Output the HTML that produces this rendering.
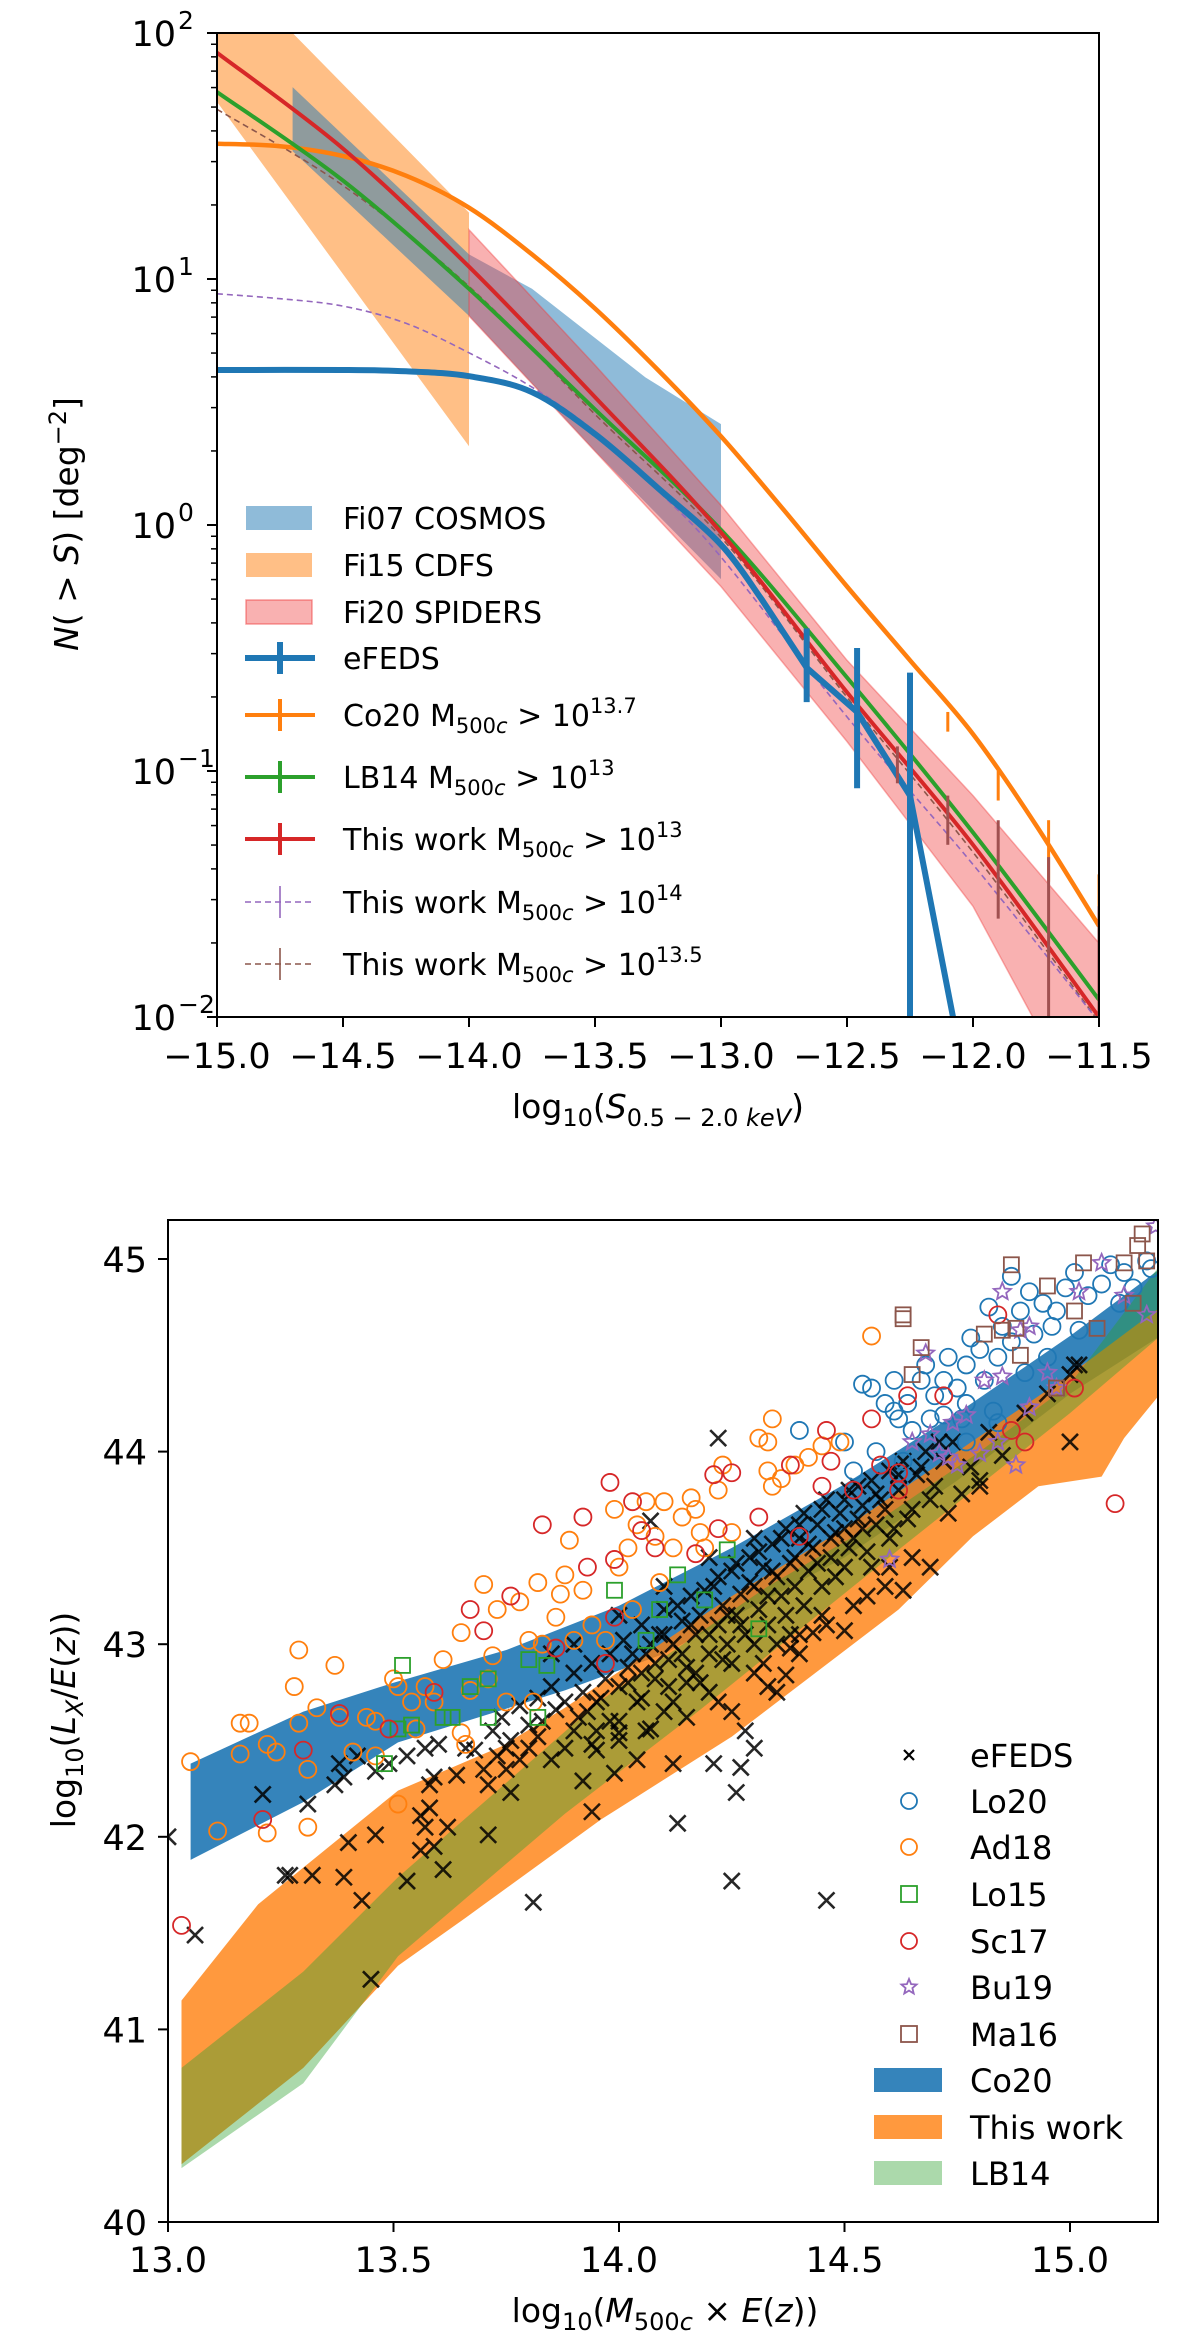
<!DOCTYPE html>
<html><head><meta charset="utf-8"><style>
html,body{margin:0;padding:0;background:#fff;}
svg{display:block;font-family:"DejaVu Sans","Liberation Sans",sans-serif;}
</style></head><body>
<svg id="fig" width="1200" height="2351" viewBox="0 0 1200 2351" xmlns="http://www.w3.org/2000/svg">
<defs>
<clipPath id="clipTop"><rect x="217" y="33" width="882" height="984"/></clipPath>
<clipPath id="clipBot"><rect x="168" y="1220" width="990" height="1002"/></clipPath>
</defs>
<g id="top"></g>
<g id="bot"></g>
</svg>
<script>
// ---------- TOP CHART DATA (x = log10 S, y = log10 N) ----------
const cdfsUpper = [[-15.3,2.3],[-14.7,2.0],[-14.0,1.27]];
const cdfsLower = [[-15.0,1.72],[-14.0,0.32]];
const cosmosUpper = [[-14.7,1.78],[-14.0,1.1],[-13.75,0.96],[-13.3,0.6],[-13.0,0.41]];
const cosmosLower = [[-14.7,1.52],[-14.0,0.85],[-13.5,0.3],[-13.0,-0.22]];
const spidersUpper = [[-14.0,1.2],[-13.5,0.65],[-13.0,0.08],[-12.5,-0.55],[-12.0,-1.1],[-11.5,-1.7]];
const spidersLower = [[-14.0,0.85],[-13.5,0.3],[-13.0,-0.25],[-12.5,-0.88],[-12.0,-1.55],[-11.5,-2.5]];
const co20Line = [[-15,1.55],[-14.75,1.54],[-14.5,1.5],[-14.25,1.42],[-14,1.29],[-13.75,1.1],[-13.5,0.88],[-13.25,0.63],[-13,0.36],[-12.75,0.06],[-12.5,-0.25],[-12.25,-0.55],[-12,-0.85],[-11.75,-1.22],[-11.5,-1.63]];
const lb14Line = [[-15,1.76],[-14.5,1.4],[-14,0.96],[-13.5,0.47],[-13,-0.02],[-12.5,-0.62],[-12,-1.25],[-11.5,-1.93]];
const thisWorkLine = [[-15,1.92],[-14.5,1.53],[-14,1.05],[-13.5,0.52],[-13,-0.03],[-12.5,-0.68],[-12,-1.3],[-11.5,-2.0]];
const m14Line = [[-15,0.94],[-14.75,0.92],[-14.5,0.89],[-14.25,0.82],[-14,0.7],[-13.75,0.56],[-13.5,0.38],[-13.25,0.14],[-13,-0.13],[-12.5,-0.78],[-12,-1.38],[-11.5,-2.02]];
const m135Line = [[-15,1.69],[-14.5,1.38],[-14,0.97],[-13.5,0.45],[-13,-0.05],[-12.5,-0.7],[-12,-1.33],[-11.5,-2.02]];
const efedsSmooth = [[-15,0.63],[-14.5,0.63],[-14.25,0.625],[-14,0.605],[-13.75,0.54],[-13.5,0.37],[-13.25,0.15],[-13,-0.08],[-12.84,-0.3]];
const efedsTail = [[-12.66,-0.58],[-12.46,-0.76],[-12.25,-1.1],[-12.07,-2.05]];
const efedsErrX = [-12.66,-12.46,-12.25];
const efedsErrLo = [-0.72,-1.07,-2.1];
const efedsErrHi = [-0.42,-0.5,-0.6];
const co20ErrX = [-12.1,-11.9,-11.7,-11.5];
const co20ErrLo = [-0.84,-1.12,-1.45,-1.75];
const co20ErrHi = [-0.76,-1.0,-1.2,-1.42];
const thisErrX = [-12.3,-12.1,-11.9,-11.7,-11.5];
const thisErrLo = [-1.05,-1.3,-1.6,-2.1,-2.1];
const thisErrHi = [-0.9,-1.1,-1.2,-1.35,-1.55];
const topXTicks = [-15.0,-14.5,-14.0,-13.5,-13.0,-12.5,-12.0,-11.5];
const topXTickLabels = ["\u221215.0","\u221214.5","\u221214.0","\u221213.5","\u221213.0","\u221212.5","\u221212.0","\u221211.5"];
const topYTicks = [2,1,0,-1,-2];
const topYTickExps = ["2","1","0","\u22121","\u22122"];

// ---------- BOTTOM CHART DATA ----------
const co20Upper = [[13.05,42.38],[13.3,42.65],[13.5,42.8],[13.75,42.97],[14,43.2],[14.25,43.5],[14.5,43.83],[14.75,44.2],[15,44.6],[15.2,44.95]];
const co20Lower = [[13.05,41.88],[13.3,42.18],[13.51,42.49],[13.88,42.76],[14.1,42.95],[14.3,43.2],[14.5,43.45],[14.75,43.85],[15,44.3],[15.2,44.6]];
const twUpper = [[13.03,41.15],[13.2,41.65],[13.51,42.24],[13.74,42.47],[13.88,42.67],[14.25,43.25],[14.5,43.6],[14.75,44.0],[15.0,44.4],[15.2,44.75]];
const twLower = [[13.03,40.3],[13.3,40.8],[13.51,41.33],[13.66,41.58],[13.96,42.09],[14.25,42.52],[14.62,43.18],[14.785,43.56],[14.93,43.82],[15.07,43.87],[15.12,44.07],[15.2,44.3]];
const lbUpper = [[13.03,40.8],[13.3,41.3],[13.51,41.79],[13.96,42.71],[14.33,43.3],[14.55,43.6],[14.8,44.0],[15.0,44.35],[15.2,44.97]];
const lbLower = [[13.03,40.28],[13.3,40.72],[13.51,41.38],[13.88,42.12],[14.18,42.66],[14.62,43.49],[15.0,44.2],[15.2,44.6]];
const efedsPts = [[13.0,42.0],[13.06,41.49],[13.21,42.22],[13.26,41.8],[13.27,41.8],[13.31,42.17],[13.32,41.8],[13.39,41.79],[13.4,41.97],[13.43,41.67],[13.45,41.26],[13.46,42.01],[13.53,41.77],[13.56,42.11],[13.56,41.93],[13.57,42.05],[13.59,41.95],[13.61,41.83],[13.58,42.27],[13.39,42.31],[13.37,42.27],[13.38,42.38],[13.42,42.42],[13.46,42.34],[13.49,42.38],[13.53,42.42],[13.57,42.46],[13.59,42.31],[13.6,42.48],[13.66,42.46],[13.71,42.27],[13.71,42.01],[13.73,42.42],[13.75,42.46],[13.76,42.23],[13.8,42.46],[13.81,41.66],[13.88,42.46],[13.92,42.29],[13.94,42.13],[13.94,42.48],[13.99,42.33],[14.0,42.54],[14.04,42.4],[14.07,42.56],[14.12,42.38],[14.13,42.07],[14.21,42.38],[14.25,41.77],[14.26,42.23],[14.27,42.36],[14.3,42.46],[14.46,41.67],[14.22,44.07],[14.07,43.64],[15.0,44.05],[15.01,44.45],[14.8,43.85],[14.73,43.68],[14.69,43.4],[14.63,43.28],[14.59,43.3],[14.5,43.07],[14.43,43.06],[14.37,42.84],[14.38,42.98],[14.33,42.78],[14.8,43.82],
[13.72,42.55],[13.74,42.62],[13.76,42.5],[13.78,42.68],[13.8,42.58],[13.82,42.72],[13.83,42.6],[13.85,42.78],[13.86,42.66],[13.88,42.7],[13.9,42.85],[13.91,42.62],[13.92,42.75],[13.94,42.9],[13.95,42.7],[13.97,42.82],[13.98,42.95],[14.0,42.78],[14.01,43.02],[14.02,42.88],[14.04,42.7],[14.05,43.1],[14.06,42.95],[14.08,42.82],[14.09,43.05],[14.1,43.18],[14.11,42.92],[14.12,43.0],[14.14,43.12],[14.15,42.88],[14.16,43.25],[14.17,43.05],[14.18,43.15],[14.2,42.95],[14.21,43.3],[14.22,43.1],[14.23,43.2],[14.24,43.0],[14.25,43.38],[14.26,43.15],[14.27,43.26],[14.28,43.05],[14.29,43.45],[14.3,43.3],[14.31,43.18],[14.32,43.4],[14.33,43.1],[14.34,43.52],[14.35,43.35],[14.36,43.25],[14.37,43.6],[14.38,43.42],[14.39,43.3],[14.4,43.55],[14.41,43.68],[14.42,43.38],[14.43,43.5],[14.44,43.62],[14.45,43.3],[14.46,43.75],[14.47,43.45],[14.48,43.58],[14.49,43.68],[14.5,43.4],[14.51,43.8],[14.52,43.55],[14.53,43.65],[14.54,43.72],[14.55,43.48],[14.56,43.85],[14.57,43.62],[14.58,43.75],[14.6,43.9],[14.61,43.6],[14.62,43.8],[14.63,43.95],[14.65,43.7],[14.66,43.88],[14.68,44.0],[14.7,43.82],[14.72,43.95],[14.74,44.05],[14.76,43.78],[14.78,43.92],[14.82,44.1],[14.85,43.98],[14.9,44.2],[14.95,44.3],[15.0,44.4],[15.02,44.45],[13.85,42.95],[13.9,43.0],[14.0,43.15],[14.1,43.3],[14.2,43.45],[14.3,43.55],[14.15,42.8],[14.05,42.72],[14.25,42.9],[14.35,43.0],[14.45,43.15],[14.55,43.25],[14.4,43.05],[14.6,43.4],[14.65,43.45],[14.5,43.6],[13.75,42.35],[13.85,42.4],[13.95,42.55],[14.0,42.6],[14.1,42.65],[14.2,42.75],[14.3,42.85],[14.4,42.95],[14.15,42.62],[14.25,42.65],[14.28,42.55],[14.35,42.75],
[13.9,42.55],[13.93,42.65],[13.96,42.72],[13.98,42.6],[14.02,42.8],[14.03,42.95],[14.05,42.85],[14.07,43.0],[14.08,42.9],[14.1,43.05],[14.11,42.78],[14.13,43.2],[14.14,42.95],[14.16,43.1],[14.17,42.85],[14.19,43.28],[14.2,43.05],[14.22,43.35],[14.23,42.92],[14.24,43.15],[14.26,43.42],[14.27,43.1],[14.29,43.32],[14.3,43.0],[14.31,43.48],[14.33,43.25],[14.34,43.38],[14.36,43.55],[14.37,43.15],[14.39,43.45],[14.4,43.62],[14.41,43.2],[14.42,43.52],[14.44,43.42],[14.45,43.7],[14.47,43.55],[14.48,43.35],[14.5,43.75],[14.51,43.5],[14.53,43.82],[14.54,43.6],[14.56,43.4],[14.57,43.78],[14.59,43.7],[14.6,43.55],[14.62,43.88],[14.64,43.65],[14.67,43.92],[14.69,43.75],[14.71,44.05],[13.95,42.45],[14.0,42.5],[14.06,42.55],[14.12,42.7],[14.18,42.8],[14.22,42.7],[14.32,42.9],[14.38,43.05],[14.46,43.1],[14.52,43.2],[13.68,42.45],[13.7,42.35],[13.78,42.4],[13.82,42.52],[13.64,42.32],[13.62,42.05],[13.58,42.15]];
const lo20Pts = [[14.4,44.11],[14.5,44.05],[14.54,44.35],[14.56,44.33],[14.59,44.25],[14.61,44.37],[14.61,44.21],[14.62,44.17],[14.64,44.25],[14.65,44.11],[14.67,44.37],[14.68,44.45],[14.69,44.17],[14.7,44.29],[14.72,44.37],[14.73,44.49],[14.75,44.33],[14.76,44.17],[14.77,44.45],[14.77,44.25],[14.78,44.59],[14.8,44.53],[14.81,44.37],[14.82,44.75],[14.83,44.21],[14.84,44.49],[14.84,44.15],[14.85,44.65],[14.87,44.57],[14.87,44.91],[14.89,44.73],[14.9,44.41],[14.91,44.83],[14.92,44.61],[14.94,44.77],[14.95,44.49],[14.96,44.65],[14.97,44.73],[14.99,44.85],[15.01,44.93],[15.02,44.63],[15.04,44.81],[15.07,44.87],[15.09,44.97],[15.11,44.77],[15.12,44.93],[15.14,44.85],[15.17,44.99],[15.18,44.95],[14.72,44.19],[14.77,44.05],[14.57,44.0],[14.63,43.95],[14.52,43.9]];
const ad18Pts = [[13.05,42.39],[13.11,42.03],[13.16,42.59],[13.18,42.59],[13.16,42.43],[13.22,42.48],[13.22,42.02],[13.24,42.44],[13.28,42.78],[13.29,42.97],[13.29,42.59],[13.31,42.35],[13.31,42.05],[13.33,42.67],[13.37,42.89],[13.38,42.62],[13.41,42.44],[13.44,42.62],[13.46,42.6],[13.46,42.42],[13.5,42.82],[13.51,42.78],[13.51,42.17],[13.54,42.7],[13.55,42.56],[13.57,42.78],[13.59,42.7],[13.61,42.92],[13.65,42.54],[13.65,43.06],[13.66,42.48],[13.67,42.76],[13.7,43.31],[13.71,42.82],[13.72,42.94],[13.73,43.18],[13.75,42.7],[13.78,43.22],[13.8,43.02],[13.81,42.7],[13.82,43.32],[13.83,43.0],[13.86,43.14],[13.87,43.26],[13.88,43.36],[13.89,43.54],[13.9,43.02],[13.92,43.28],[13.94,43.1],[13.97,43.02],[13.99,43.7],[14.0,43.4],[14.02,43.5],[14.03,43.18],[14.04,43.62],[14.06,43.74],[14.08,43.56],[14.09,43.32],[14.1,43.74],[14.12,43.5],[14.14,43.66],[14.16,43.76],[14.17,43.7],[14.18,43.58],[14.19,43.5],[14.22,43.8],[14.23,43.93],[14.25,43.58],[14.31,44.07],[14.33,44.05],[14.34,44.17],[14.33,43.9],[14.34,43.82],[14.39,43.93],[14.42,43.97],[14.45,44.03],[14.49,44.05],[14.56,44.6],[14.36,43.86]];
const lo15Pts = [[13.52,42.89],[13.67,42.78],[13.71,42.82],[13.63,42.62],[13.61,42.62],[13.48,42.38],[13.51,42.56],[13.54,42.58],[13.71,42.62],[13.82,42.62],[13.8,42.92],[13.84,42.89],[13.99,43.28],[14.06,43.02],[14.09,43.18],[14.13,43.36],[14.19,43.23],[14.24,43.49],[14.31,43.08]];
const sc17Pts = [[13.03,41.54],[13.21,42.09],[13.3,42.45],[13.38,42.64],[13.49,42.56],[13.59,42.75],[13.67,43.18],[13.7,43.07],[13.76,43.25],[13.83,43.62],[13.86,42.98],[13.92,43.66],[13.93,43.4],[13.98,43.84],[13.99,43.44],[13.99,43.14],[13.97,42.9],[14.03,43.74],[14.05,43.59],[14.08,43.5],[14.17,43.47],[14.21,43.88],[14.22,43.6],[14.25,43.89],[14.31,43.66],[14.38,43.93],[14.4,43.56],[14.45,43.82],[14.46,44.11],[14.47,43.95],[14.52,43.8],[14.56,44.17],[14.58,43.93],[14.62,43.8],[14.64,44.29],[14.72,44.29],[14.84,44.71],[14.9,44.05],[15.01,44.33],[15.1,43.73],[14.62,43.89],[14.87,44.11]];
const bu19Pts = [[14.6,43.44],[14.68,44.51],[14.69,44.09],[14.71,43.99],[14.73,43.97],[14.74,44.15],[14.75,43.93],[14.77,44.19],[14.8,43.99],[14.84,44.05],[14.85,44.39],[14.85,44.83],[14.88,43.93],[14.89,44.63],[14.91,44.65],[14.91,44.23],[14.95,44.41],[14.97,44.33],[15.02,44.83],[15.07,44.98],[15.12,44.81],[15.17,44.71],[15.19,45.17],[14.81,44.37],[14.65,44.05]];
const ma16Pts = [[14.63,44.71],[14.63,44.69],[14.67,44.54],[14.65,44.4],[14.81,44.61],[14.87,44.97],[14.88,44.64],[14.89,44.5],[14.95,44.86],[14.97,44.33],[15.01,44.73],[15.03,44.98],[15.06,44.64],[15.12,44.98],[15.14,44.77],[15.15,45.07],[15.16,45.13],[15.17,44.99],[14.85,44.63]];
const botXTicks = [13.0,13.5,14.0,14.5,15.0];
const botXTickLabels = ["13.0","13.5","14.0","14.5","15.0"];
const botYTicks = [40,41,42,43,44,45];
const botYTickLabels = ["40","41","42","43","44","45"];

const NS = "http://www.w3.org/2000/svg";
function mk(parent, tag, attrs){ const e=document.createElementNS(NS,tag); for(const k in attrs) e.setAttribute(k,attrs[k]); parent.appendChild(e); return e; }
function smooth(P){
  let d='M'+P[0][0].toFixed(1)+','+P[0][1].toFixed(1);
  for(let i=0;i<P.length-1;i++){
    const p0=P[i-1]||P[i], p1=P[i], p2=P[i+1], p3=P[i+2]||P[i+1];
    const c1=[p1[0]+(p2[0]-p0[0])/6, p1[1]+(p2[1]-p0[1])/6];
    const c2=[p2[0]-(p3[0]-p1[0])/6, p2[1]-(p3[1]-p1[1])/6];
    d+=` C${c1[0].toFixed(1)},${c1[1].toFixed(1)} ${c2[0].toFixed(1)},${c2[1].toFixed(1)} ${p2[0].toFixed(1)},${p2[1].toFixed(1)}`;
  }
  return d;
}

// ---------- TOP ----------
const T = document.getElementById('top');
const tx = v => 217 + (v + 15) * 252;
const ty = v => 33 + (2 - v) * 246;
const tPath = pts => pts.map((p,i)=>(i?'L':'M')+tx(p[0]).toFixed(1)+','+ty(p[1]).toFixed(1)).join(' ');
const tPoly = (up, lo) => tPath(up) + ' ' + lo.slice().reverse().map(p=>'L'+tx(p[0]).toFixed(1)+','+ty(p[1]).toFixed(1)).join(' ') + ' Z';
const tPlot = mk(T,'g',{'clip-path':'url(#clipTop)'});



let el = mk(tPlot,'path',{d:tPoly(cdfsUpper,cdfsLower),fill:'rgb(255,127,14)','fill-opacity':'0.5'});
 
el = mk(tPlot,'path',{d:tPoly(cosmosUpper,cosmosLower),fill:'rgb(31,119,180)','fill-opacity':'0.5'});
 
el = mk(tPlot,'path',{d:tPoly(spidersUpper,spidersLower),fill:'rgb(240,60,60)','fill-opacity':'0.4',stroke:'rgb(240,60,60)','stroke-opacity':'0.4','stroke-width':'1.5'});
 

function tLine(pts,color,w,dash,name,sm){
  const px = pts.map(p=>[tx(p[0]),ty(p[1])]);
  const e = mk(tPlot,'path',{d:sm?smooth(px):tPath(pts),fill:'none',stroke:color,'stroke-width':w,'stroke-dasharray':dash||'none','stroke-linejoin':'round'});
  
  
}
function tErr(xs,lo,hi,color,w,name){
  xs.forEach((x,i)=>{
    const e = mk(tPlot,'line',{x1:tx(x),x2:tx(x),y1:ty(lo[i]),y2:ty(hi[i]),stroke:color,'stroke-width':w});
    
    
  });
}
tLine(m135Line,'#8c564b',1.6,'6,4','line-this-work-13-5',true);
tLine(m14Line,'#9467bd',1.6,'6,4','line-this-work-14',true);
tLine(co20Line,'#ff7f0e',4.5,null,'line-co20',true);
tLine(lb14Line,'#2ca02c',4,null,'line-lb14',true);
tLine(thisWorkLine,'#d62728',4,null,'line-this-work-13',true);
// eFEDS: smooth plateau then straight segments
(function(){
  const px = efedsSmooth.map(p=>[tx(p[0]),ty(p[1])]);
  const d = smooth(px) + ' ' + efedsTail.map(p=>'L'+tx(p[0]).toFixed(1)+','+ty(p[1]).toFixed(1)).join(' ');
  const e = mk(tPlot,'path',{d:d,fill:'none',stroke:'#1f77b4','stroke-width':6,'stroke-linejoin':'round'});
  
  
})();
tErr(co20ErrX,co20ErrLo,co20ErrHi,'#ff7f0e',3,'errorbar-co20');
tErr(thisErrX,thisErrLo,thisErrHi,'#a05050',3,'errorbar-this-work');
tErr(efedsErrX,efedsErrLo,efedsErrHi,'#1f77b4',6,'errorbar-efeds');

el = mk(T,'rect',{x:217,y:33,width:882,height:984,fill:'none',stroke:'#000','stroke-width':2});
 
topXTicks.forEach((v,i)=>{
  mk(T,'line',{x1:tx(v),x2:tx(v),y1:1017,y2:1027,stroke:'#000','stroke-width':2});
  const t = mk(T,'text',{x:tx(v),y:1068,'font-size':35,'text-anchor':'middle',fill:'#000'});
  t.textContent = topXTickLabels[i];
   
});
topYTicks.forEach((v,i)=>{
  mk(T,'line',{x1:207,x2:217,y1:ty(v),y2:ty(v),stroke:'#000','stroke-width':2});
  const t = mk(T,'text',{x:176,y:ty(v)+13,'font-size':35,'text-anchor':'end',fill:'#000'});
  t.textContent='10';
  const s = mk(T,'text',{x:178,y:ty(v)-4,'font-size':25,'text-anchor':'start',fill:'#000'});
  s.textContent = topYTickExps[i];
   
   
  if(v>-2){ for(let m=2;m<10;m++){ const yy=ty(v-1+Math.log10(m)); mk(T,'line',{x1:211,x2:217,y1:yy,y2:yy,stroke:'#000','stroke-width':1.5}); } }
});
</script>
<script>
(function(){
const T = document.getElementById('top');
const NS="http://www.w3.org/2000/svg";
function mk(p,tag,a){const e=document.createElementNS(NS,tag);for(const k in a)e.setAttribute(k,a[k]);p.appendChild(e);return e;}
let t = mk(T,'text',{x:658,y:1118,'font-size':33,'text-anchor':'middle',fill:'#000'});
t.innerHTML = 'log<tspan font-size="24" dy="8">10</tspan><tspan dy="-8">(</tspan><tspan font-style="italic">S</tspan><tspan font-size="24" dy="8">0.5 − 2.0 </tspan><tspan font-size="24" font-style="italic">keV</tspan><tspan dy="-8">)</tspan>';
 
t = mk(T,'text',{x:0,y:0,'font-size':33,'text-anchor':'middle',fill:'#000',transform:'translate(78,524) rotate(-90)'});
t.innerHTML = '<tspan font-style="italic">N</tspan>( &gt; <tspan font-style="italic">S</tspan>) [deg<tspan font-size="24" dy="-12">−2</tspan><tspan dy="12">]</tspan>';
 
const sub = (pre,exp)=> pre+' M<tspan font-size="21" dy="7">500<tspan font-style="italic">c</tspan></tspan><tspan dy="-7"> &gt; 10</tspan><tspan font-size="21" dy="-13">'+exp+'</tspan>';
const rows=[
 {y:518,type:'patch',fill:'rgba(31,119,180,0.5)',label:'Fi07 COSMOS'},
 {y:565,type:'patch',fill:'rgba(255,127,14,0.5)',label:'Fi15 CDFS'},
 {y:612,type:'patch',fill:'rgba(240,60,60,0.4)',label:'Fi20 SPIDERS',stroke:'rgba(240,60,60,0.5)'},
 {y:658,type:'line',color:'#1f77b4',w:6,label:'eFEDS'},
 {y:715,type:'line',color:'#ff7f0e',w:4,label:sub('Co20','13.7')},
 {y:777,type:'line',color:'#2ca02c',w:4,label:sub('LB14','13')},
 {y:839,type:'line',color:'#d62728',w:4,label:sub('This work','13')},
 {y:902,type:'line',color:'#9467bd',w:1.6,dash:'6,4',label:sub('This work','14')},
 {y:964,type:'line',color:'#8c564b',w:1.6,dash:'6,4',label:sub('This work','13.5')}
];
const lg = mk(T,'g',{});
 
rows.forEach(r=>{
  const g = mk(lg,'g',{});
   
  if(r.type==='patch'){ mk(g,'rect',{x:246,y:r.y-12,width:66,height:24,fill:r.fill,stroke:r.stroke||'none','stroke-width':1.5}); }
  else { mk(g,'line',{x1:245,x2:315,y1:r.y,y2:r.y,stroke:r.color,'stroke-width':r.w,'stroke-dasharray':r.dash||'none'});
         mk(g,'line',{x1:280,x2:280,y1:r.y-16,y2:r.y+16,stroke:r.color,'stroke-width':r.w>3?r.w:1.6}); }
  const tt = mk(g,'text',{x:343,y:r.y+11,'font-size':30,fill:'#000'});
  tt.innerHTML = r.label;
});
})();
</script>
<script>
(function(){
const B = document.getElementById('bot');
const NS="http://www.w3.org/2000/svg";
function mk(p,tag,a){const e=document.createElementNS(NS,tag);for(const k in a)e.setAttribute(k,a[k]);p.appendChild(e);return e;}
const bx = v => 168 + (v - 13) * 451;
const by = v => 2222 - (v - 40) * 192.6;
const bPath = pts => pts.map((p,i)=>(i?'L':'M')+bx(p[0]).toFixed(1)+','+by(p[1]).toFixed(1)).join(' ');
const bPoly = (up,lo) => bPath(up)+' '+lo.slice().reverse().map(p=>'L'+bx(p[0]).toFixed(1)+','+by(p[1]).toFixed(1)).join(' ')+' Z';
const P = mk(B,'g',{'clip-path':'url(#clipBot)'});
 
let e = mk(P,'path',{d:bPoly(co20Upper,co20Lower),fill:'rgb(31,119,180)','fill-opacity':'0.9'});
 
e = mk(P,'path',{d:bPoly(twUpper,twLower),fill:'rgb(255,127,14)','fill-opacity':'0.8'});
 
e = mk(P,'path',{d:bPoly(lbUpper,lbLower),fill:'rgb(44,160,44)','fill-opacity':'0.4'});
 

function star(cx,cy,r){let s='';for(let i=0;i<10;i++){const a=-Math.PI/2+i*Math.PI/5;const rr=i%2?r*0.45:r;s+=(i?'L':'M')+(cx+rr*Math.cos(a)).toFixed(1)+','+(cy+rr*Math.sin(a)).toFixed(1);}return s+'Z';}
function scatter(pts,kind,color,name){
  const g = mk(P,'g',{});
   
  pts.forEach(p=>{
    const x=bx(p[0]), y=by(p[1]); let m;
    if(kind==='x'){ m = mk(g,'path',{d:`M${x-8},${y-8}L${x+8},${y+8}M${x-8},${y+8}L${x+8},${y-8}`,stroke:color,'stroke-width':2.6,'stroke-opacity':0.85,fill:'none'}); }
    else if(kind==='o'){ m = mk(g,'circle',{cx:x,cy:y,r:8.5,fill:'none',stroke:color,'stroke-width':1.8}); }
    else if(kind==='s'){ m = mk(g,'rect',{x:x-7.5,y:y-7.5,width:15,height:15,fill:'none',stroke:color,'stroke-width':1.8}); }
    else { m = mk(g,'path',{d:star(x,y,9),fill:'none',stroke:color,'stroke-width':1.8}); }
    
    
  });
}
scatter(efedsPts,'x','#000','series-efeds');
scatter(lo20Pts,'o','#1f77b4','series-lo20');
scatter(ad18Pts,'o','#ff7f0e','series-ad18');
scatter(lo15Pts,'s','#2ca02c','series-lo15');
scatter(sc17Pts,'o','#d62728','series-sc17');
scatter(bu19Pts,'*','#9467bd','series-bu19');
scatter(ma16Pts,'s','#8c564b','series-ma16');

e = mk(B,'rect',{x:168,y:1220,width:990,height:1002,fill:'none',stroke:'#000','stroke-width':2});
 
botXTicks.forEach((v,i)=>{
  mk(B,'line',{x1:bx(v),x2:bx(v),y1:2222,y2:2232,stroke:'#000','stroke-width':2});
  const t = mk(B,'text',{x:bx(v),y:2272,'font-size':35,'text-anchor':'middle',fill:'#000'});
  t.textContent = botXTickLabels[i];
   
});
botYTicks.forEach((v,i)=>{
  mk(B,'line',{x1:158,x2:168,y1:by(v),y2:by(v),stroke:'#000','stroke-width':2});
  const t = mk(B,'text',{x:147,y:by(v)+13,'font-size':35,'text-anchor':'end',fill:'#000'});
  t.textContent = botYTickLabels[i];
   
});
let t = mk(B,'text',{x:665,y:2322,'font-size':33,'text-anchor':'middle',fill:'#000'});
t.innerHTML = 'log<tspan font-size="24" dy="8">10</tspan><tspan dy="-8">(</tspan><tspan font-style="italic">M</tspan><tspan font-size="24" dy="8">500<tspan font-style="italic">c</tspan></tspan><tspan dy="-8"> × </tspan><tspan font-style="italic">E</tspan>(<tspan font-style="italic">z</tspan>))';
 
t = mk(B,'text',{x:0,y:0,'font-size':33,'text-anchor':'middle',fill:'#000',transform:'translate(75,1720) rotate(-90)'});
t.innerHTML = 'log<tspan font-size="24" dy="8">10</tspan><tspan dy="-8">(</tspan><tspan font-style="italic">L</tspan><tspan font-size="24" dy="8" font-style="italic">X</tspan><tspan dy="-8">/</tspan><tspan font-style="italic">E</tspan>(<tspan font-style="italic">z</tspan>))';
 

const leg=[
 {y:1755,k:'x',c:'#000',l:'eFEDS'},{y:1801,k:'o',c:'#1f77b4',l:'Lo20'},{y:1847,k:'o',c:'#ff7f0e',l:'Ad18'},
 {y:1894,k:'s',c:'#2ca02c',l:'Lo15'},{y:1941,k:'o',c:'#d62728',l:'Sc17'},{y:1987,k:'*',c:'#9467bd',l:'Bu19'},
 {y:2034,k:'s',c:'#8c564b',l:'Ma16'},{y:2080,k:'p',c:'rgba(31,119,180,0.9)',l:'Co20'},
 {y:2127,k:'p',c:'rgba(255,127,14,0.8)',l:'This work'},{y:2173,k:'p',c:'rgba(44,160,44,0.4)',l:'LB14'}];
const lg = mk(B,'g',{});
 
leg.forEach(r=>{
  const g = mk(lg,'g',{});
   
  const x=909,y=r.y;
  if(r.k==='x') mk(g,'path',{d:`M${x-5},${y-5}L${x+5},${y+5}M${x-5},${y+5}L${x+5},${y-5}`,stroke:'#000','stroke-width':2.2});
  else if(r.k==='o') mk(g,'circle',{cx:x,cy:y,r:8,fill:'none',stroke:r.c,'stroke-width':1.8});
  else if(r.k==='s') mk(g,'rect',{x:x-8,y:y-8,width:16,height:16,fill:'none',stroke:r.c,'stroke-width':1.8});
  else if(r.k==='*') mk(g,'path',{d:star(x,y,8),fill:'none',stroke:r.c,'stroke-width':1.8});
  else mk(g,'rect',{x:874,y:y-12,width:68,height:24,fill:r.c});
  const tt = mk(g,'text',{x:970,y:y+12,'font-size':32,fill:'#000'});
  tt.textContent = r.l;
});
})();
</script>
</body></html>
